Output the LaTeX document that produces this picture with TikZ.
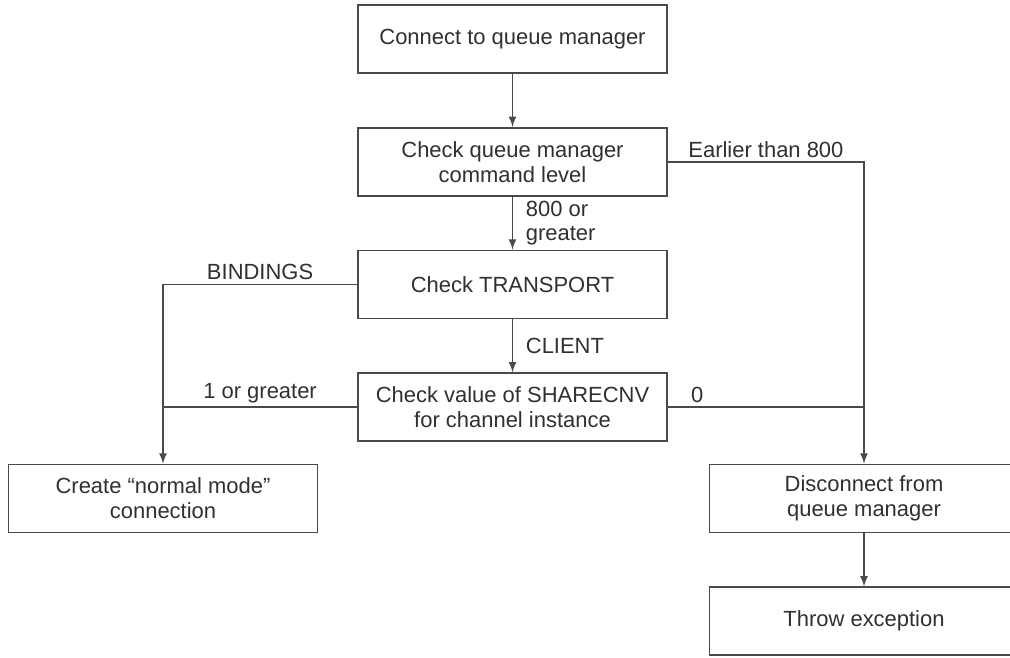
\documentclass[tikz,border=0pt]{standalone}
\usepackage{fontspec}
\setmainfont{Liberation Sans}
\usepackage{tikz}
\usetikzlibrary{arrows,positioning}
\definecolor{flowline}{HTML}{4A4A4A}
\definecolor{flowtext}{HTML}{303030}

\begin{document}
\begin{tikzpicture}[
    x=0.02cm, y=0.02cm,
    node distance=1.06cm and 1cm,
    stepbox/.style={rectangle, draw=flowline, line width=1pt, minimum width=6.18cm, minimum height=1.36cm, align=center, text=flowtext, font=\fontsize{12.5}{14.2}\selectfont},
    lbl/.style={text=flowtext, font=\fontsize{12.5}{14.2}\selectfont, inner sep=2pt},
    arrow/.style={->,>=latex,line width=1pt,draw=flowline},
    link/.style={line width=1pt,draw=flowline}
    ]
    \useasboundingbox (0,0) rectangle (1010,-657);
    \clip (0,0) rectangle (1010,-657);

    % Columna principal
    \node[stepbox] (connect) at (512.5,-39) {Connect to queue manager};
    \node[stepbox, below=of connect] (cmdlevel) {Check queue manager\\command level};
    \node[stepbox, below=of cmdlevel] (transport) {Check TRANSPORT};
    \node[stepbox, below=of transport] (sharecnv) {Check value of SHARECNV\\for channel instance};

    % Resultados
    \node[stepbox] (normal) at (163,-498.5) {Create ``normal mode''\\connection};
    \node[stepbox] (disconnect) at (864,-498.5) {Disconnect from\\queue manager};
    \node[stepbox, below=of disconnect] (throwex) {Throw exception};

    % Flechas verticales
    \draw[arrow] (connect) -- (cmdlevel);
    \draw[arrow] (cmdlevel) -- node[lbl, right=1.8mm, align=left] {800 or\\greater} (transport);
    \draw[arrow] (transport) -- node[lbl, right=1.8mm] {CLIENT} (sharecnv);
    \draw[arrow] (disconnect) -- (throwex);

    % Ramas laterales
    \draw[arrow] (cmdlevel.east) -| node[lbl, pos=0.25, above] {Earlier than 800} (disconnect.north);
    \draw[link] (sharecnv.east) -- node[lbl, pos=0.15, above] {0} (sharecnv.east -| disconnect.north);
    \draw[arrow] (transport.west) -| node[lbl, pos=0.25, above] {BINDINGS} (normal.north);
    \draw[link] (sharecnv.west) -- node[lbl, above] {1 or greater} (sharecnv.west -| normal.north);

\end{tikzpicture}
\end{document}
